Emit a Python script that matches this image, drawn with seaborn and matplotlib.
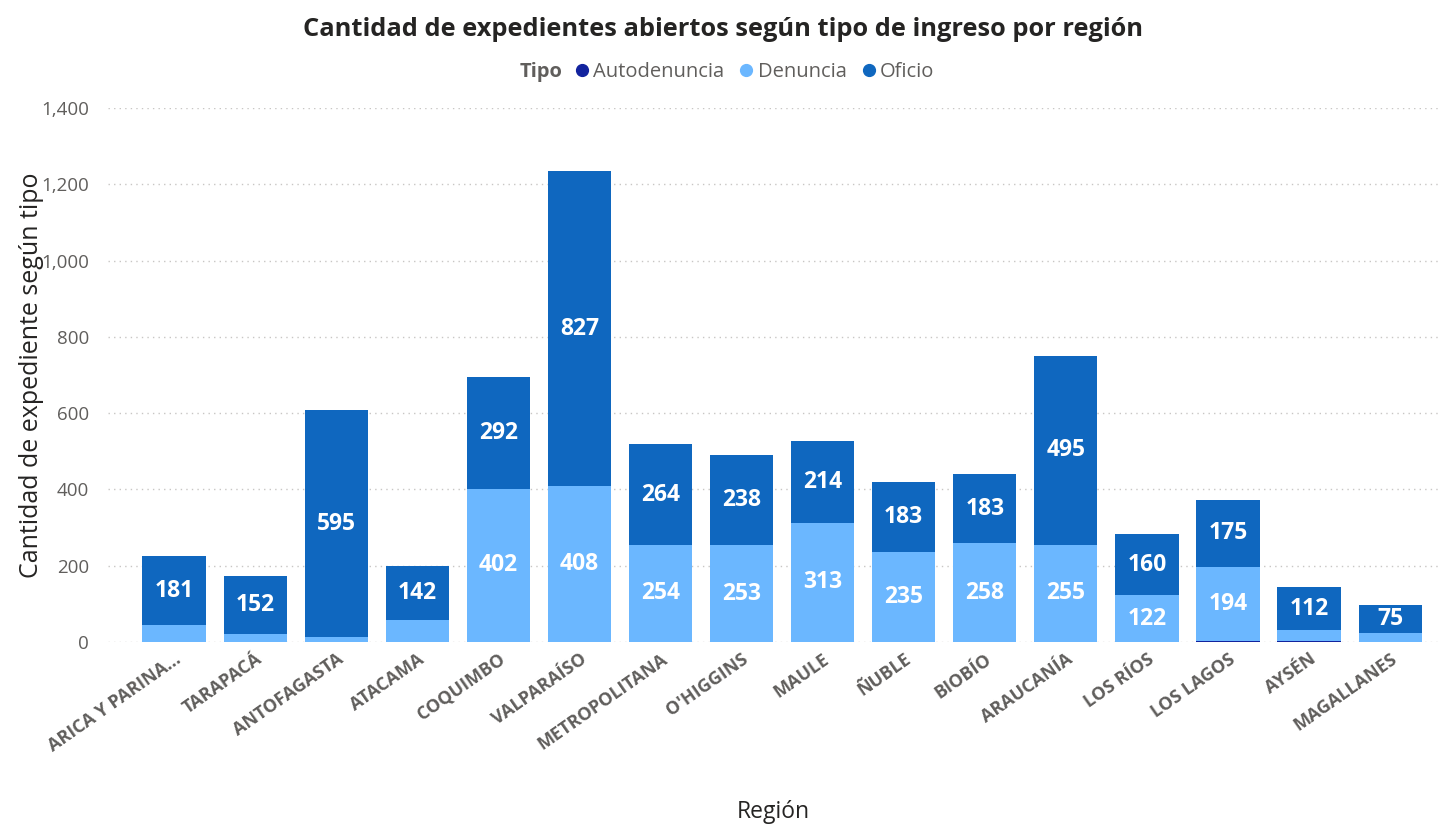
import pandas as pd
import seaborn as sns
import matplotlib.pyplot as plt
from matplotlib.lines import Line2D
from matplotlib.ticker import FuncFormatter

regiones = ["ARICA Y PARINA...", "TARAPACÁ", "ANTOFAGASTA", "ATACAMA", "COQUIMBO",
            "VALPARAÍSO", "METROPOLITANA", "O'HIGGINS", "MAULE", "ÑUBLE", "BIOBÍO",
            "ARAUCANÍA", "LOS RÍOS", "LOS LAGOS", "AYSÉN", "MAGALLANES"]
autodenuncia = [0, 0, 0, 0, 0, 0, 0, 0, 0, 0, 0, 0, 0, 3, 2, 0]
denuncia = [43, 21, 12, 57, 402, 408, 254, 253, 313, 235, 258, 255, 122, 194, 29, 22]
oficio = [181, 152, 595, 142, 292, 827, 264, 238, 214, 183, 183, 495, 160, 175, 112, 75]

c_auto = "#12239E"
c_den = "#6BB7FF"
c_ofi = "#0F67BF"
gris = "#605E5C"

df = pd.DataFrame({"region": regiones, "auto": autodenuncia, "den": denuncia, "ofi": oficio})
df["base_den"] = df["auto"]
df["tope_den"] = df["auto"] + df["den"]
df["total"] = df["tope_den"] + df["ofi"]

sns.set_style("white")
plt.rcParams["font.family"] = ["Open Sans", "DejaVu Sans"]

fig = plt.figure(figsize=(14.46, 8.25), dpi=100)
ax = fig.add_axes([0.075, 0.222, 0.92, 0.647])

# barras apiladas superpuestas: total, luego denuncia+auto, luego auto
bar_kw = dict(saturation=1, width=0.78, ax=ax, linewidth=0)
sns.barplot(data=df, x="region", y="total", color=c_ofi, zorder=2, **bar_kw)
sns.barplot(data=df, x="region", y="tope_den", color=c_den, zorder=3, **bar_kw)
sns.barplot(data=df, x="region", y="auto", color=c_auto, zorder=4, **bar_kw)

# etiquetas de valores
for i, row in df.iterrows():
    ax.text(i, row["tope_den"] + row["ofi"] / 2, f"{row['ofi']}", ha="center", va="center",
            color="white", fontsize=16.5, fontweight="bold", zorder=5)
    if row["den"] >= 100:
        ax.text(i, row["base_den"] + row["den"] / 2, f"{row['den']}", ha="center", va="center",
                color="white", fontsize=16.5, fontweight="bold", zorder=5)

ax.set_ylim(0, 1400)
ax.set_xlim(-0.81, 15.6)
ax.set_yticks(range(0, 1401, 200))
ax.yaxis.set_major_formatter(FuncFormatter(lambda v, p: f"{int(v):,}"))
ax.grid(axis="y", linestyle=(0, (1, 3)), color="#C8C6C4", linewidth=1, zorder=0)
ax.set_axisbelow(True)
for s in ax.spines.values():
    s.set_visible(False)

ax.tick_params(axis="y", labelsize=13.5, labelcolor=gris, length=0, pad=14)
ax.tick_params(axis="x", length=0, pad=6)
plt.setp(ax.get_xticklabels(), rotation=35, ha="right", rotation_mode="anchor",
         fontsize=13, fontweight="bold", color=gris)

ax.set_xlabel("Región", fontsize=16.5, color="#252423", va="center")
ax.xaxis.set_label_coords(0.5, -0.318)
ax.set_ylabel("Cantidad de expediente según tipo", fontsize=18, color="#252423", va="center")
ax.yaxis.set_label_coords(-0.058, 0.5)

fig.text(0.5, 1 - 30 / 825, "Cantidad de expedientes abiertos según tipo de ingreso por región",
         ha="center", va="center", fontsize=18.3, fontweight="bold", color="#252423")

fig.text(520 / 1446, 1 - 72 / 825, "Tipo", ha="left", va="center", fontsize=14.5,
         fontweight="bold", color=gris)
handles = [Line2D([], [], marker="o", linestyle="", color=c, markersize=8.5) for c in (c_auto, c_den, c_ofi)]
leg = fig.legend(handles, ["Autodenuncia", "Denuncia", "Oficio"], loc="center left",
                 bbox_to_anchor=(572 / 1446, 1 - 72 / 825), ncol=3, frameon=False,
                 fontsize=14.5, handletextpad=0.05, columnspacing=0.6, handlelength=1.0,
                 borderaxespad=0, borderpad=0)
for t in leg.get_texts():
    t.set_color(gris)

fig.savefig("out.png", dpi=100)
